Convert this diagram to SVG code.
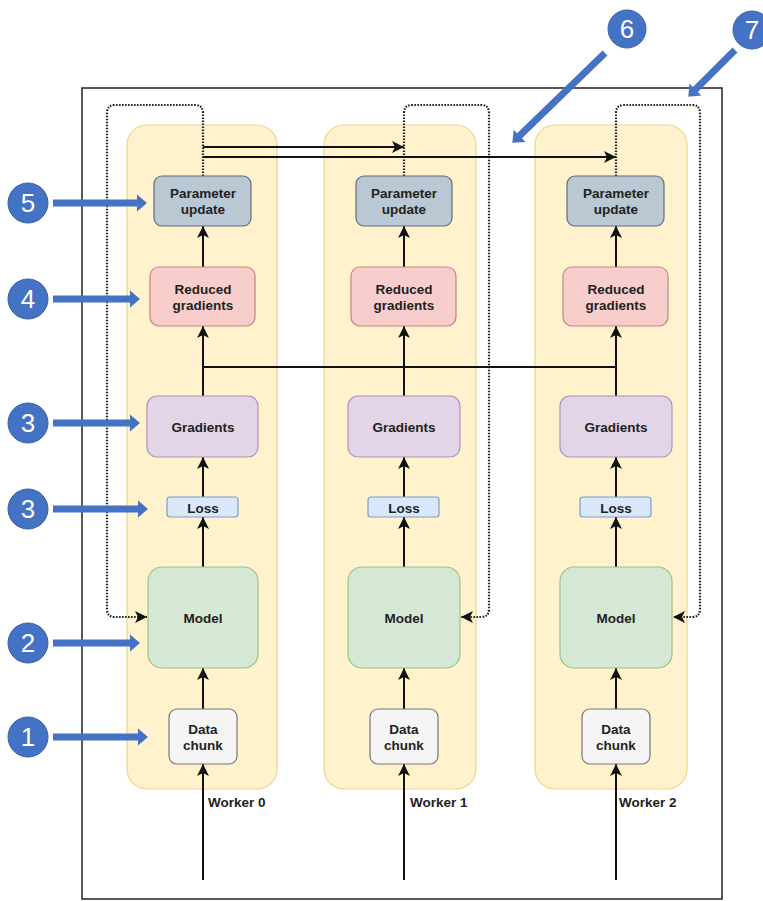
<svg xmlns="http://www.w3.org/2000/svg" width="763" height="901" viewBox="0 0 763 901">
<style>
.panel{fill:#fff2cc;stroke:#ecd48e;stroke-width:1.2}
.t{font-family:"Liberation Sans",Arial,sans-serif;font-weight:bold;font-size:13.5px;fill:#222;text-anchor:middle;dominant-baseline:central}
.wl{font-family:"Liberation Sans",Arial,sans-serif;font-weight:bold;font-size:13.5px;fill:#222;dominant-baseline:central}
.param{fill:#bac8d3;stroke:#5d6d7e;stroke-width:1.2}
.red{fill:#f8cecc;stroke:#c9827f;stroke-width:1.2}
.grad{fill:#e1d5e7;stroke:#ad93bb;stroke-width:1.2}
.loss{fill:#dae8fc;stroke:#7f9cc8;stroke-width:1.2}
.model{fill:#d5e8d4;stroke:#9cc28a;stroke-width:1.2}
.data{fill:#f5f5f5;stroke:#777;stroke-width:1.2}
.ln{fill:none;stroke:#111;stroke-width:2}
.arr{fill:none;stroke:#111;stroke-width:2;marker-end:url(#ah)}
.dota{fill:none;stroke:#222;stroke-width:2.2;stroke-dasharray:1.6 1.4;marker-end:url(#ah)}
.bl{fill:#4472c4}
.circ{fill:#4472c4;stroke:#3a62a8;stroke-width:1}
.num{font-family:"Liberation Sans",Arial,sans-serif;font-size:26px;fill:#fff;text-anchor:middle;dominant-baseline:central}
</style>
<defs>
<marker id="ah" markerUnits="userSpaceOnUse" markerWidth="12" markerHeight="12" refX="10" refY="5" orient="auto" viewBox="0 0 10 10">
<path d="M0,0 L10,5 L0,10 L2.5,5 Z" fill="#111"/>
</marker>
</defs>
<rect x="82" y="88" width="640" height="811" fill="#fff" stroke="#222" stroke-width="1.5"/>

<g id="worker0">
<rect class="panel" x="127" y="125" width="150" height="664" rx="20"/>
<text class="wl" x="208" y="802">Worker 0</text>
</g>
<g id="worker1">
<rect class="panel" x="324" y="125" width="152" height="664" rx="20"/>
<text class="wl" x="410" y="802">Worker 1</text>
</g>
<g id="worker2">
<rect class="panel" x="535" y="125" width="152" height="664" rx="20"/>
<text class="wl" x="619" y="802">Worker 2</text>
</g>

<g id="connectors">
<path class="dota" d="M203,176 V113 Q203,105 195,105 H115 Q107,105 107,113 V609 Q107,617 115,617 H147"/>
<path class="dota" d="M404,176 V113 Q404,105 412,105 H481 Q489,105 489,113 V609 Q489,617 481,617 H461"/>
<path class="dota" d="M616,176 V113 Q616,105 624,105 H692 Q700,105 700,113 V609 Q700,617 692,617 H673"/>
<path class="arr" d="M203,147 H404"/>
<path class="arr" d="M203,157 H616"/>
<path class="ln" d="M203,367 H616"/>
<path class="arr" d="M203,396 V326"/>
<path class="arr" d="M404,396 V326"/>
<path class="arr" d="M616,396 V326"/>
<path class="arr" d="M203,267 V226"/>
<path class="arr" d="M404,267 V226"/>
<path class="arr" d="M616,267 V226"/>
<path class="arr" d="M203,497 V457"/>
<path class="arr" d="M404,497 V457"/>
<path class="arr" d="M616,497 V457"/>
<path class="arr" d="M203,567 V517"/>
<path class="arr" d="M404,567 V517"/>
<path class="arr" d="M616,567 V517"/>
<path class="arr" d="M203,709 V668"/>
<path class="arr" d="M404,709 V668"/>
<path class="arr" d="M616,709 V668"/>
<path class="arr" d="M203,880 V764"/>
<path class="arr" d="M404,880 V764"/>
<path class="arr" d="M616,880 V764"/>
</g>

<g id="param0"><rect class="param" x="154" y="176" width="97" height="50" rx="8"/><text class="t" x="203" y="193">Parameter</text><text class="t" x="203" y="209">update</text></g>
<g id="param1"><rect class="param" x="356" y="176" width="96" height="50" rx="8"/><text class="t" x="404" y="193">Parameter</text><text class="t" x="404" y="209">update</text></g>
<g id="param2"><rect class="param" x="567" y="176" width="97" height="50" rx="8"/><text class="t" x="616" y="193">Parameter</text><text class="t" x="616" y="209">update</text></g>

<g id="reduced0"><rect class="red" x="150" y="267" width="105" height="59" rx="9"/><text class="t" x="203" y="289">Reduced</text><text class="t" x="203" y="305">gradients</text></g>
<g id="reduced1"><rect class="red" x="351" y="267" width="105" height="59" rx="9"/><text class="t" x="404" y="289">Reduced</text><text class="t" x="404" y="305">gradients</text></g>
<g id="reduced2"><rect class="red" x="563" y="267" width="105" height="59" rx="9"/><text class="t" x="616" y="289">Reduced</text><text class="t" x="616" y="305">gradients</text></g>

<g id="grad0"><rect class="grad" x="147" y="396" width="111" height="61" rx="10"/><text class="t" x="203" y="427">Gradients</text></g>
<g id="grad1"><rect class="grad" x="348" y="396" width="112" height="61" rx="10"/><text class="t" x="404" y="427">Gradients</text></g>
<g id="grad2"><rect class="grad" x="560" y="396" width="112" height="61" rx="10"/><text class="t" x="616" y="427">Gradients</text></g>

<g id="loss0"><rect class="loss" x="167" y="497" width="71" height="20" rx="3"/><text class="t" x="203" y="508">Loss</text></g>
<g id="loss1"><rect class="loss" x="368" y="497" width="71" height="20" rx="3"/><text class="t" x="404" y="508">Loss</text></g>
<g id="loss2"><rect class="loss" x="580" y="497" width="71" height="20" rx="3"/><text class="t" x="616" y="508">Loss</text></g>

<g id="model0"><rect class="model" x="148" y="567" width="110" height="101" rx="14"/><text class="t" x="203" y="618">Model</text></g>
<g id="model1"><rect class="model" x="348" y="567" width="112" height="101" rx="14"/><text class="t" x="404" y="618">Model</text></g>
<g id="model2"><rect class="model" x="560" y="567" width="112" height="101" rx="14"/><text class="t" x="616" y="618">Model</text></g>

<g id="data0"><rect class="data" x="169" y="709" width="68" height="55" rx="8"/><text class="t" x="203" y="729">Data</text><text class="t" x="203" y="745">chunk</text></g>
<g id="data1"><rect class="data" x="370" y="709" width="68" height="55" rx="8"/><text class="t" x="404" y="729">Data</text><text class="t" x="404" y="745">chunk</text></g>
<g id="data2"><rect class="data" x="582" y="709" width="68" height="55" rx="8"/><text class="t" x="616" y="729">Data</text><text class="t" x="616" y="745">chunk</text></g>

<g id="callouts">
<path class="bl" transform="translate(53,203)" d="M0,-3.5 H84 V-8.5 L94,0 L84,8.5 V3.5 H0 Z"/>
<path class="bl" transform="translate(53,299)" d="M0,-3.5 H77 V-8.5 L87,0 L77,8.5 V3.5 H0 Z"/>
<path class="bl" transform="translate(53,423)" d="M0,-3.5 H77 V-8.5 L87,0 L77,8.5 V3.5 H0 Z"/>
<path class="bl" transform="translate(53,509)" d="M0,-3.5 H85 V-8.5 L95,0 L85,8.5 V3.5 H0 Z"/>
<path class="bl" transform="translate(53,643)" d="M0,-3.5 H77 V-8.5 L87,0 L77,8.5 V3.5 H0 Z"/>
<path class="bl" transform="translate(53,737)" d="M0,-3.5 H85 V-8.5 L95,0 L85,8.5 V3.5 H0 Z"/>
<path class="bl" transform="translate(605,53) rotate(135.9)" d="M0,-3.5 H119 V-8.5 L129,0 L119,8.5 V3.5 H0 Z"/>
<path class="bl" transform="translate(735,50) rotate(135)" d="M0,-3.5 H56 V-8.5 L66,0 L56,8.5 V3.5 H0 Z"/>
<circle class="circ" cx="28" cy="203" r="20"/><text class="num" x="28" y="203">5</text>
<circle class="circ" cx="28" cy="299" r="20"/><text class="num" x="28" y="299">4</text>
<circle class="circ" cx="28" cy="423" r="20"/><text class="num" x="28" y="423">3</text>
<circle class="circ" cx="28" cy="509" r="20"/><text class="num" x="28" y="509">3</text>
<circle class="circ" cx="28" cy="643" r="20"/><text class="num" x="28" y="643">2</text>
<circle class="circ" cx="28" cy="737" r="20"/><text class="num" x="28" y="737">1</text>
<circle class="circ" cx="627" cy="29" r="19"/><text class="num" x="627" y="29">6</text>
<circle class="circ" cx="752" cy="30" r="19"/><text class="num" x="752" y="30">7</text>
</g>
</svg>
